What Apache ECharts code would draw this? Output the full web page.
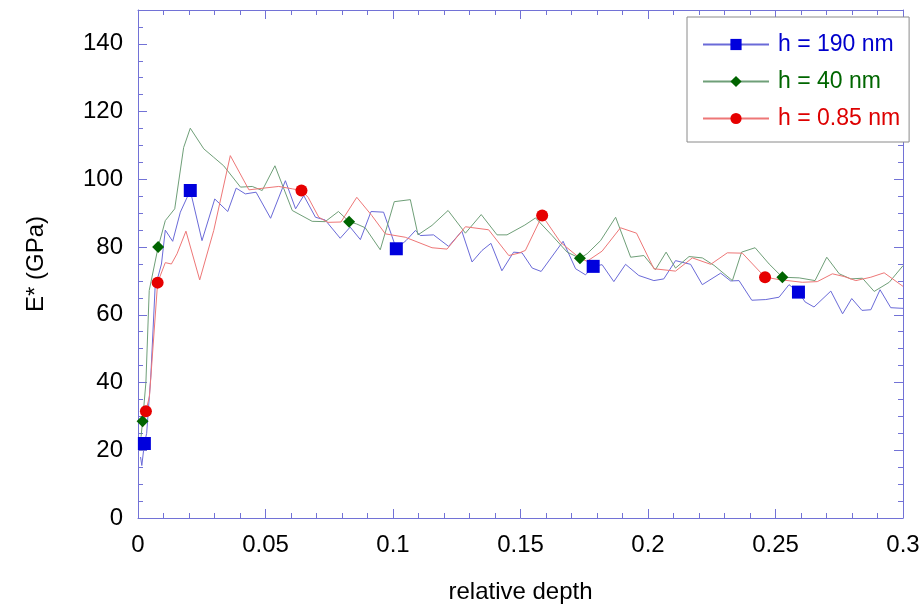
<!DOCTYPE html>
<html><head><meta charset="utf-8">
<script src="https://cdn.jsdelivr.net/npm/echarts@6/dist/echarts.min.js"></script>
<style>html,body{margin:0;padding:0;background:#fff}#c{width:924px;height:611px}</style>
</head><body><div id="c"></div><script>
const seriesNames = ['h = 190 nm', 'h = 40 nm', 'h = 0.85 nm'];
const xTicks = [0, 0.05, 0.1, 0.15, 0.2, 0.25, 0.3];
const yTicks = [0, 20, 40, 60, 80, 100, 120, 140];

const blueData = [[0.0010,18],[0.0015,15.5],[0.0025,22],[0.0034,25],[0.005,41.6],[0.0067,68],[0.0092,75],[0.0107,85],[0.0136,81.7],[0.0166,90.3],[0.0205,96.7],[0.0251,81.9],[0.0301,94.2],[0.0352,90.5],[0.0385,97.4],[0.0421,95.7],[0.0463,96.2],[0.052,88.5],[0.0578,99.6],[0.0618,91.3],[0.065,95.2],[0.0696,88.8],[0.0734,88],[0.0793,82.6],[0.0832,85.9],[0.0872,82.2],[0.0914,90.5],[0.0963,90.3],[0.1013,79.5],[0.1051,81.9],[0.1088,84.9],[0.1107,83.4],[0.1159,83.6],[0.1218,80.2],[0.127,84.7],[0.131,75.6],[0.1349,79],[0.1384,81.1],[0.1427,73],[0.1473,78.5],[0.1506,78.3],[0.1546,73.8],[0.1581,72.8],[0.1667,81.7],[0.1716,73.6],[0.1755,71.8],[0.1785,74.3],[0.182,74.8],[0.1866,69.8],[0.1912,74.9],[0.1964,71.6],[0.2023,70.1],[0.2062,70.6],[0.2108,76],[0.2167,74.9],[0.2213,68.9],[0.2285,72.3],[0.2324,70],[0.2357,70.1],[0.2407,64.3],[0.2462,64.5],[0.2514,65.2],[0.2553,68.9],[0.259,66.7],[0.2616,63.8],[0.2651,62.3],[0.2717,67],[0.2763,60.3],[0.2799,64.8],[0.2839,61.3],[0.2874,61.5],[0.291,67.4],[0.2952,62.1],[0.3,61.9]];
const greenData = [[0.0012,24],[0.0018,28.6],[0.0031,40],[0.0044,67.2],[0.0079,80],[0.0107,87.8],[0.0144,91.3],[0.0179,109.4],[0.0205,115.1],[0.0258,109],[0.0297,106.5],[0.0336,104],[0.0402,97.7],[0.0448,97.9],[0.0487,96.7],[0.0537,104],[0.0605,90.8],[0.0683,87.6],[0.0734,87.5],[0.0786,90.5],[0.0828,87.5],[0.0858,86.8],[0.0891,85.7],[0.095,79.2],[0.1005,93.4],[0.1068,94],[0.1098,83.6],[0.1153,86.4],[0.1216,90.8],[0.1284,84.1],[0.1346,89.6],[0.1408,83.6],[0.1447,83.6],[0.1517,86.5],[0.1559,88.6],[0.1624,83.4],[0.1683,78.5],[0.1733,76.7],[0.1761,78],[0.1814,81.9],[0.1873,88.8],[0.1932,77],[0.1984,77.5],[0.2029,73.3],[0.2071,78.5],[0.2108,73.8],[0.2161,77.2],[0.2213,76.8],[0.2259,74.6],[0.2331,70.1],[0.2367,78.5],[0.242,79.8],[0.2475,75],[0.2527,71.1],[0.2593,70.9],[0.2655,70.1],[0.2701,77],[0.275,72.1],[0.2795,70.6],[0.2841,70.8],[0.2887,66.9],[0.2946,69.6],[0.3,74.5]];
const redData = [[0.002,27],[0.0031,31.5],[0.0045,36],[0.0077,69.5],[0.0107,75.4],[0.0131,75],[0.0153,78],[0.0188,84.7],[0.0242,70.3],[0.0297,84.9],[0.0362,107],[0.0435,96.9],[0.0493,97.4],[0.0552,97.9],[0.0605,97.2],[0.0641,96.7],[0.0667,94.7],[0.0709,88.8],[0.0745,87.3],[0.0796,87.4],[0.0858,94.7],[0.0917,89.3],[0.097,83.9],[0.1048,82.9],[0.1153,79.8],[0.1212,79.4],[0.1284,86],[0.1375,85.1],[0.1454,77.5],[0.1493,78.2],[0.1519,79],[0.1585,89.3],[0.1657,81.4],[0.1733,76.7],[0.1761,75.8],[0.182,78.8],[0.1892,85.7],[0.1955,84.1],[0.2023,73.6],[0.2108,72.9],[0.2174,76.8],[0.2246,74.9],[0.2311,78.3],[0.237,78.2],[0.2459,71.1],[0.2514,70.4],[0.2605,69.6],[0.2664,69.8],[0.2723,72.1],[0.2769,71.3],[0.2815,70.1],[0.2874,71.1],[0.2926,72.4],[0.3,68.4]];

// x positions carrying a marker symbol
const blueMarks = [0.0025, 0.0205, 0.1013, 0.1785, 0.259];
const greenMarks = [0.0018, 0.0079, 0.0828, 0.1733, 0.2527];
const redMarks = [0.0031, 0.0077, 0.0641, 0.1585, 0.2459];

const FONT = 'Liberation Sans, Arial, sans-serif';
const AX = '#7272d6';

function lineSeries(name, data, marks, symbol, size, lineColor, markColor) {
  return {
    type: 'line', name, data, symbol,
    symbolSize: (v) => marks.indexOf(v[0]) >= 0 ? size : 0,
    showAllSymbol: true,
    lineStyle: { color: lineColor, width: 1 },
    itemStyle: { color: markColor, borderWidth: 0 },
    emphasis: { disabled: true },
    xAxisIndex: 0, yAxisIndex: 0, z: 3
  };
}

const tickStyle = { show: true, inside: true, length: 9, lineStyle: { color: AX } };
const minorStyle = { show: true, length: 5, lineStyle: { color: AX } };
const lineStyleAx = { show: true, onZero: false, lineStyle: { color: AX, width: 1 } };
const labelStyle = { color: '#000', fontSize: 24, fontFamily: FONT, margin: 15 };

function mkX(pos, showLabel) {
  const a = {
    type: 'value', min: 0, max: 0.3, interval: 0.05, position: pos,
    axisLine: lineStyleAx,
    axisTick: Object.assign({}, tickStyle, { customValues: xTicks }),
    minorTick: Object.assign({}, minorStyle, { splitNumber: 5 }),
    splitLine: { show: false },
    axisLabel: showLabel ? Object.assign({}, labelStyle, { customValues: xTicks, formatter: v => String(+v.toFixed(2)) }) : { show: false }
  };
  if (showLabel) {
    a.name = 'relative depth'; a.nameLocation = 'middle'; a.nameGap = 62;
    a.nameTextStyle = { fontSize: 24, fontFamily: FONT, color: '#000' };
  }
  return a;
}
function mkY(pos, showLabel) {
  const a = {
    type: 'value', min: 0, max: 150, interval: 20, position: pos,
    axisLine: lineStyleAx,
    axisTick: Object.assign({}, tickStyle, { customValues: yTicks }),
    minorTick: Object.assign({}, minorStyle, { splitNumber: 4 }),
    splitLine: { show: false },
    axisLabel: showLabel ? Object.assign({}, labelStyle, { customValues: yTicks }) : { show: false }
  };
  if (showLabel) {
    a.name = 'E* (GPa)'; a.nameLocation = 'middle'; a.nameGap = 90; a.nameRotate = 90;
    a.nameTextStyle = { fontSize: 24, fontFamily: FONT, color: '#000' };
  }
  return a;
}

const chart = echarts.init(document.getElementById('c'), null, { renderer: 'canvas' });
chart.setOption({
  animation: false,
  backgroundColor: '#fff',
  grid: { left: 138, right: 21, top: 10, bottom: 93, containLabel: false },
  xAxis: [mkX('bottom', true), mkX('top', false)],
  yAxis: [mkY('left', true), mkY('right', false)],
  legend: {
    orient: 'vertical', left: 687, top: 17,
    backgroundColor: '#fff', borderColor: '#8a8a8a', borderWidth: 1,
    padding: [16, 9, 12, 15],
    itemWidth: 66, itemHeight: 14, itemGap: 14,
    textStyle: { fontSize: 23, fontFamily: FONT, padding: [0, 0, 0, 4] },
    data: [
      { name: seriesNames[0], textStyle: { color: '#0000cc' } },
      { name: seriesNames[1], textStyle: { color: '#006600' } },
      { name: seriesNames[2], textStyle: { color: '#dd0000' } }
    ]
  },
  series: [
    lineSeries(seriesNames[0], blueData, blueMarks, 'rect', 13, '#6a6ad8', '#0000dd'),
    lineSeries(seriesNames[1], greenData, greenMarks, 'diamond', 12, '#6f9f78', '#006400'),
    lineSeries(seriesNames[2], redData, redMarks, 'circle', 12, '#ee7777', '#e60000')
  ]
});
</script></body></html>
